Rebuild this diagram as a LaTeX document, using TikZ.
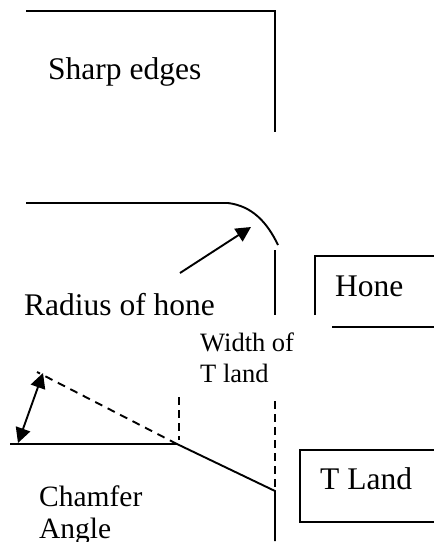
\documentclass[tikz,border=0pt]{standalone}
\usepackage{fontspec}
\setmainfont{Liberation Serif}
\usetikzlibrary{arrows.meta}
\tikzset{
  ln/.style={draw=black,line width=1.9pt},
  lbl/.style={inner sep=0pt,anchor=base west,text=black,font=\fontsize{31.5}{34}\selectfont},
  mid/.style={inner sep=0pt,anchor=base west,text=black,font=\fontsize{29.5}{32}\selectfont},
  small/.style={inner sep=0pt,anchor=base west,text=black,font=\fontsize{26.5}{30}\selectfont},
  tip/.style={-{Triangle[length=15pt,width=15pt]}},
  both/.style={{Triangle[length=15pt,width=15pt]}-{Triangle[length=15pt,width=15pt]}},
}
\begin{document}
\begin{tikzpicture}[x=1pt,y=-1pt]
\useasboundingbox (0,0) rectangle (434,542);
\clip (0,0) rectangle (434,542);
% sharp edges
\coordinate (s1) at (26,11); \coordinate (s2) at (275,11); \coordinate (s3) at (275,132);
\draw[ln] (s1) -- (s2) -- (s3);
\node[lbl] (sharp) at (48,79) {Sharp edges};
% hone
\coordinate (h1) at (26,203); \coordinate (h2) at (228,203); \coordinate (h3) at (278,245);
\draw[ln] (h1) -- (h2) .. controls (252,206) and (267,222) .. (h3);
\coordinate (h4) at (275,250); \coordinate (h5) at (275,315);
\draw[ln] (h4) -- (h5);
\coordinate (ra) at (180,273); \coordinate (rb) at (251,227);
\draw[ln,tip] (ra) -- (rb);
\node[lbl] (radius) at (24,315) {Radius of hone};
\coordinate (b1) at (315,315); \coordinate (b2) at (315,256); \coordinate (b3) at (434,256);
\draw[ln] (b1) -- (b2) -- (b3);
\node[lbl] (honel) at (335,296) {Hone};
\coordinate (b4) at (332,327); \coordinate (b5) at (434,327);
\draw[ln] (b4) -- (b5);
% T land
\node[small] (w1) at (200,351) {Width of};
\node[small] (w2) at (200,382) {T land};
\coordinate (c1) at (10,444); \coordinate (c2) at (177,444); \coordinate (c3) at (275,491); \coordinate (c4) at (275,541);
\draw[ln] (c1) -- (c2) -- (c3) -- (c4);
\coordinate (d1) at (37,372);
\draw[ln,dash pattern=on 8pt off 6pt] (c2) -- (d1);
\coordinate (v1) at (179,397); \coordinate (v2) at (179,440);
\draw[ln,dash pattern=on 8pt off 5pt] (v1) -- (v2);
\coordinate (v3) at (275,401); \coordinate (v4) at (275,491);
\draw[ln,dash pattern=on 8pt off 5pt] (v3) -- (v4);
\coordinate (a1) at (18,443); \coordinate (a2) at (43,373);
\draw[ln,both] (a1) -- (a2);
\node[mid] (ch) at (39,506) {Chamfer};
\node[mid] (an) at (39,538) {Angle};
\node[draw=black,line width=1.9pt,minimum width=170pt,minimum height=72pt,inner sep=0pt,anchor=north west] (tbox) at (299,449) {};
\node[lbl] (tl) at (320,489) {T Land};
\end{tikzpicture}
\end{document}
